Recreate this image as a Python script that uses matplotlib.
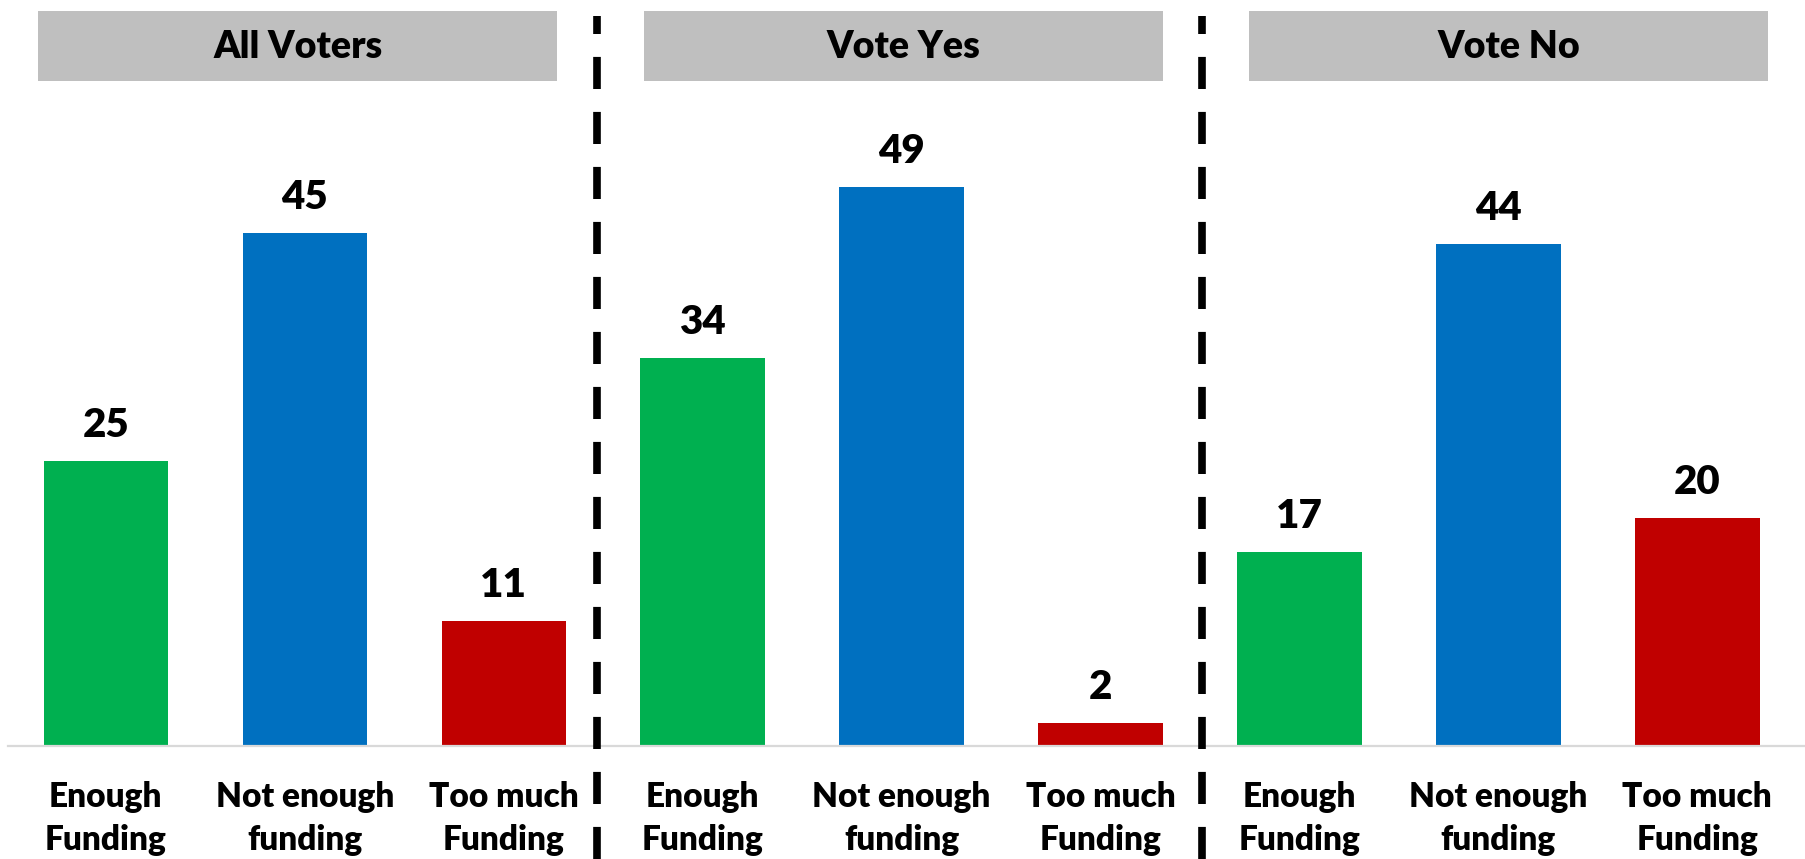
import matplotlib
matplotlib.use("Agg")
import matplotlib.pyplot as plt
from matplotlib.patches import Rectangle

groups = ["All Voters", "Vote Yes", "Vote No"]
categories = ["Enough\nFunding", "Not enough\nfunding", "Too much\nFunding"]
all_voters = [25, 45, 11]
vote_yes = [34, 49, 2]
vote_no = [17, 44, 20]
colors = ["#00B050", "#0070C0", "#C00000"]

plt.rcParams['font.family'] = ['Lato', 'DejaVu Sans']

fig = plt.figure(figsize=(18.05, 8.59), dpi=100)
ax = fig.add_axes([0, 0, 1, 1])
ax.set_xlim(-0.532, 8.541)
ax.set_ylim(-9.89, 65.4)
ax.axis('off')

box_offsets = [-0.036, 0.009, 0.052]
series = [all_voters, vote_yes, vote_no]
for g, vals in enumerate(series):
    for i, v in enumerate(vals):
        x = g * 3 + i
        ax.bar(x, v, width=0.625, color=colors[i], zorder=2)
        ax.text(x, v + 3.1, str(v), ha='center', va='center',
                fontsize=29, fontweight='heavy', color='black')
        ax.text(x, -6.35, categories[i], ha='center', va='center',
                fontsize=24, fontweight='heavy', color='black', linespacing=1.42)
    cx = g * 3 + 1 + box_offsets[g]
    ax.add_patch(Rectangle((cx - 1.305, 58.3), 2.61, 6.1, facecolor='#BFBFBF',
                           edgecolor='none', zorder=1))
    ax.text(cx, 61.3, groups[g], ha='center', va='center', fontsize=27,
            fontweight='heavy', color='black')

# baseline
ax.plot([-0.49, 8.541], [0, 0], color='#D9D9D9', lw=1.6, zorder=3)

# dashed separators
for xs in [2.47, 5.51]:
    ax.plot([xs, xs], [-9.89, 64.0], color='black', lw=5.5,
            linestyle=(0, (4.2, 3.0)), solid_capstyle='butt', dash_capstyle='butt', zorder=3)

fig.savefig("out.png", dpi=100)
